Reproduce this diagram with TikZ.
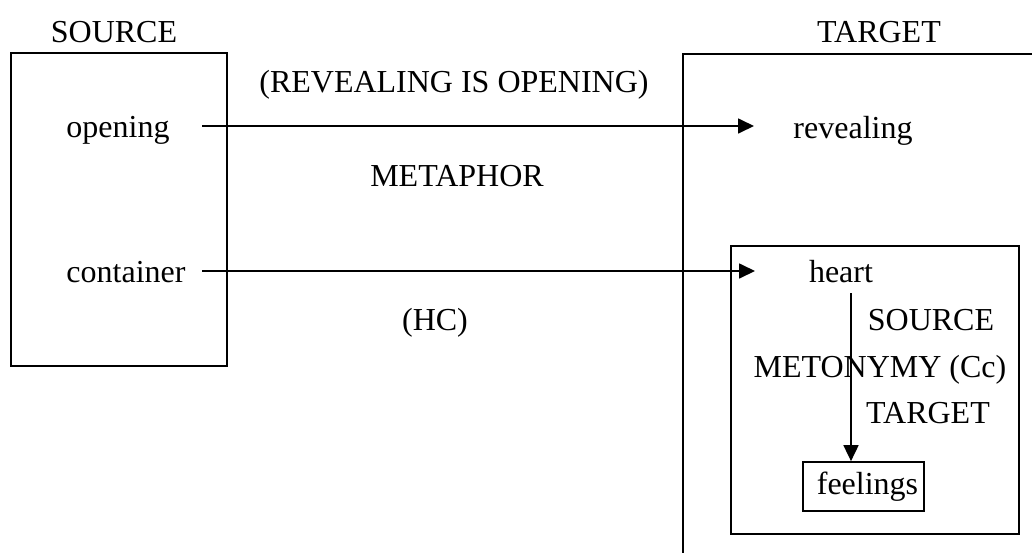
\documentclass[tikz,border=0pt]{standalone}
\usepackage{fontspec}
\setmainfont{Liberation Serif}
\usetikzlibrary{arrows.meta}

\begin{document}
\begin{tikzpicture}[x=1pt, y=-1pt,
		% Styles
		word/.style={anchor=base, inner sep=0pt, font=\fontsize{32}{38}\selectfont},
		frame/.style={line width=2pt},
		mapping/.style={line width=1.7pt, -{Triangle[length=16pt, width=15pt]}}
		]
		
		\useasboundingbox (0, 0) rectangle (1032, 552);
		
		% Domains
		\draw[frame] (11, 53) rectangle (227, 366);
		\draw[frame] (1040, 54) -- (683, 54) -- (683, 560);
		\draw[frame] (731, 246) rectangle (1019, 534);
		
		\node[word] (src title) at (114, 42) {SOURCE};
		\node[word] (tgt title) at (879, 42) {TARGET};
		
		% Source domain
		\node[word] (opening) at (118, 137) {opening};
		\node[word] (container) at (126, 282) {container};
		
		% Target domain
		\node[word] (revealing) at (853, 138) {revealing};
		\node[word] (heart) at (841, 282) {heart};
		\node[draw, line width=1.7pt, minimum width=121pt, minimum height=49pt, inner sep=0pt,
			font=\fontsize{32}{38}\selectfont] (feelings) at (863.5, 486.5) {\hspace{8pt}feelings};
		
		% Labels of the mappings
		\node[word] (rio) at (454, 92) {(REVEALING IS OPENING)};
		\node[word] (metaphor) at (457, 186) {METAPHOR};
		\node[word] (hc) at (435, 330) {(HC)};
		\node[word] (inner src) at (931, 330) {SOURCE};
		\node[word] (metonymy) at (880, 377) {METONYMY (Cc)};
		\node[word] (inner tgt) at (928, 423) {TARGET};
		
		% Arrow ends
		\coordinate (op out) at (202, 126);
		\coordinate (rev in) at (754, 126);
		\coordinate (con out) at (202, 271);
		\coordinate (heart in) at (755, 271);
		\coordinate (heart out) at (851, 293);
		
		\draw[mapping] (op out) -- (rev in);
		\draw[mapping] (con out) -- (heart in);
		\draw[mapping] (heart out) -- (feelings.north -| heart out);
		
	\end{tikzpicture}
\end{document}
